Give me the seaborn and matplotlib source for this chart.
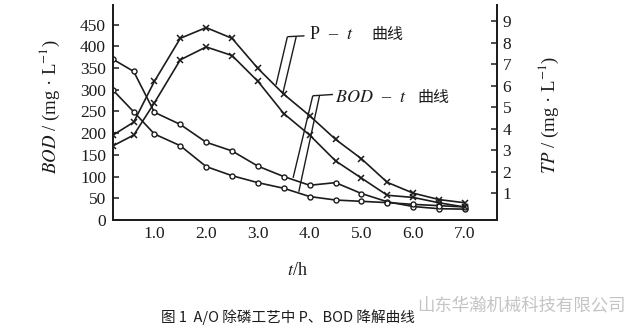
import matplotlib
matplotlib.use("Agg")
import matplotlib.pyplot as plt
import seaborn as sns
import pandas as pd

# ---- data ----
t_h = [0.2, 0.6, 1.0, 1.5, 2.0, 2.5, 3.0, 3.5, 4.0, 4.5, 5.0, 5.5, 6.0, 6.5, 7.0]
bod_a = [370, 342, 248, 220, 179, 159, 124, 100, 80, 86, 61, 42, 31, 26, 25]
bod_b = [299, 249, 198, 171, 123, 102, 86, 73, 54, 46, 43, 40, 36, 33, 30]
tp_a = [3.7, 4.3, 6.2, 8.2, 8.7, 8.2, 6.8, 5.6, 4.6, 3.5, 2.6, 1.5, 1.0, 0.7, 0.55]
tp_b = [3.2, 3.7, 5.2, 7.2, 7.8, 7.4, 6.2, 4.7, 3.7, 2.5, 1.7, 0.9, 0.8, 0.55, 0.35]

bod_ticks = [0, 50, 100, 150, 200, 250, 300, 350, 400, 450]
tp_ticks = [1, 2, 3, 4, 5, 6, 7, 8, 9]
t_ticks = [1.0, 2.0, 3.0, 4.0, 5.0, 6.0, 7.0]

bod_df = pd.DataFrame({"t": t_h * 2, "v": bod_a + bod_b,
                       "s": ["a"] * len(t_h) + ["b"] * len(t_h)})
tp_df = pd.DataFrame({"t": t_h * 2, "v": tp_a + tp_b,
                      "s": ["a"] * len(t_h) + ["b"] * len(t_h)})

sns.set_style("white")
plt.rcParams["font.family"] = ["Liberation Serif", "Noto Sans CJK SC"]
plt.rcParams["mathtext.fontset"] = "stix"

INK = "#1c1c1c"
CJK = ["Noto Sans CJK SC", "DejaVu Sans"]
W, H = 644, 328
fig = plt.figure(figsize=(W / 100, H / 100), dpi=100)
ax = fig.add_axes([113 / W, 108 / H, 384 / W, 215 / H])
ax2 = ax.twinx()

for s in ["a", "b"]:
    sns.lineplot(data=bod_df[bod_df.s == s], x="t", y="v", ax=ax, sort=False,
                 color=INK, lw=1.2, marker="o", markersize=3.6,
                 markerfacecolor="white", markeredgecolor=INK, markeredgewidth=1.0)
    sns.lineplot(data=tp_df[tp_df.s == s], x="t", y="v", ax=ax2, sort=False,
                 color=INK, lw=1.2, marker="x", markersize=5,
                 markeredgecolor=INK, markeredgewidth=1.1)

ax.set_xlim(0.2, 7.62)
ax.set_ylim(0, 495)
ax2.set_ylim(-0.25, 9.75)

for a in (ax, ax2):
    a.spines["top"].set_visible(False)
    for sp in ("left", "right", "bottom"):
        a.spines[sp].set_color(INK)
        a.spines[sp].set_linewidth(1.3)

ax.set_xticks(t_ticks)
ax.set_xticklabels([f"{v:.1f}" for v in t_ticks])
ax.set_yticks(bod_ticks)
ax.set_yticklabels([str(v) for v in bod_ticks])
ax2.set_yticks(tp_ticks)
ax2.set_yticklabels([str(v) for v in tp_ticks])

ax.tick_params(axis="both", direction="in", length=4, width=1.1, color=INK,
               labelsize=12.5, labelcolor=INK)
ax.tick_params(axis="x", pad=4)
ax.tick_params(axis="y", pad=5)
ax2.tick_params(axis="y", direction="in", length=4, width=1.1, color=INK,
                labelsize=12.5, labelcolor=INK, pad=4)

ax.set_xlabel(r"$t$/h", fontsize=13, color=INK)
ax.xaxis.set_label_coords(0.479, -0.195)
ax.set_ylabel(r"$\mathit{BOD}$ / (mg · L$^{-1}$)", fontsize=13.5, color=INK)
ax.yaxis.set_label_coords(-0.133, 0.526)
ax2.set_ylabel(r"$\mathit{TP}$ / (mg · L$^{-1}$)", fontsize=13.5, color=INK)
ax2.yaxis.set_label_coords(1.104, 0.488)

# annotation brackets (left-axis data coords)
lk = dict(color=INK, lw=1.0, solid_capstyle="butt")
ax.plot([3.57, 3.90], [422, 424], **lk)
ax.plot([3.57, 3.35], [422, 311], **lk)
ax.plot([3.74, 3.48], [422, 291], **lk)
ax.text(3.99, 427, r"P  –  $t$", fontsize=13, va="center", ha="left", color=INK)
ax.text(5.2, 427, "曲线", fontsize=11.5, va="center", ha="left", color=INK, family=CJK)

ax.plot([4.06, 4.45], [286, 289], **lk)
ax.plot([4.06, 3.68], [286, 97], **lk)
ax.plot([4.19, 3.79], [286, 65], **lk)
ax.text(4.49, 283, r"$\mathit{BOD}$  –  $t$", fontsize=13, va="center", ha="left", color=INK)
ax.text(6.09, 283, "曲线", fontsize=11.5, va="center", ha="left", color=INK, family=CJK)

fig.text(288 / W, 1 - 317 / H, "图 1  A/O 除磷工艺中 P、BOD 降解曲线",
         fontsize=10.5, ha="center", va="center", color=INK, family=CJK)
fig.text(417 / W, 1 - 305 / H, "山东华瀚机械科技有限公司",
         fontsize=12.5, ha="left", va="center", color="#c4c4c4", family=CJK)

fig.savefig("out.png", dpi=100, facecolor="white")
